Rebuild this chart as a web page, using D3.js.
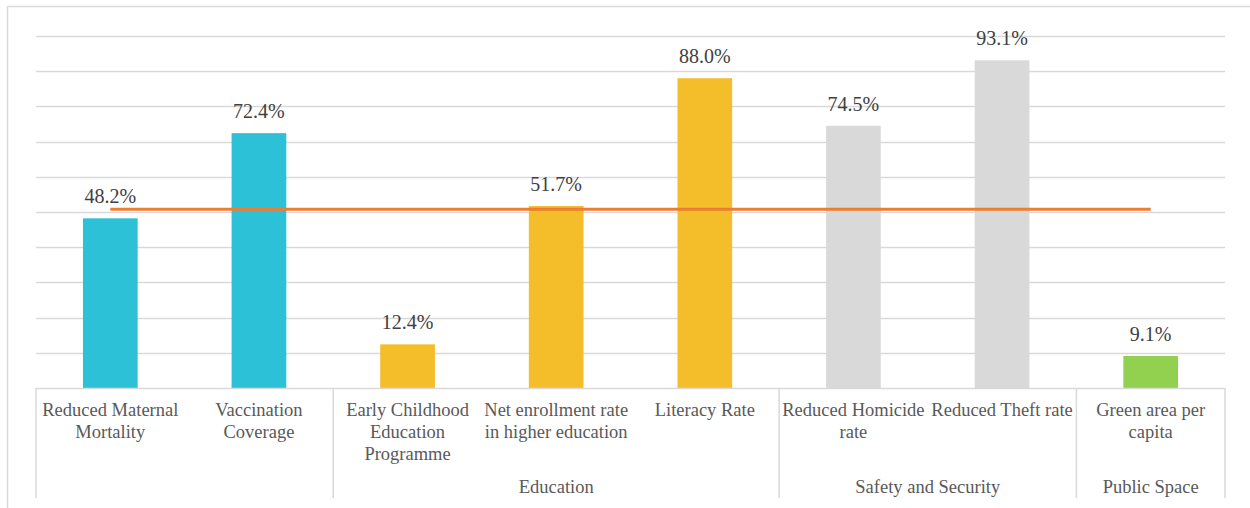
<!DOCTYPE html>
<html>
<head>
<meta charset="utf-8">
<script src="https://cdn.jsdelivr.net/npm/d3@7"></script>
<style>
  body { margin: 0; background: #fff; }
  svg { display: block; }
  svg text { font-family: "Liberation Serif", serif; }
</style>
</head>
<body>
<svg id="chart" width="1250" height="508"></svg>
<script>
// data
var categories = [
  "Reduced Maternal Mortality", "Vaccination Coverage",
  "Early Childhood Education Programme", "Net enrollment rate in higher education", "Literacy Rate",
  "Reduced Homicide rate", "Reduced Theft rate",
  "Green area per capita"
];
var values = [48.2, 72.4, 12.4, 51.7, 88.0, 74.5, 93.1, 9.1];
var groupOf = [0, 0, 1, 1, 1, 2, 2, 3];
var groups = ["", "Education", "Safety and Security", "Public Space"];
var groupColors = ["#2CC1D7", "#F4BE2A", "#D9D9D9", "#92D050"];
var targetLine = [50.8, 50.8, 50.8, 50.8, 50.8, 50.8, 50.8, 50.8];
var yTicks = [0, 10, 20, 30, 40, 50, 60, 70, 80, 90, 100];

var svg = d3.select("#chart");
var plotLeft = 36, plotRight = 1225, plotTop = 36, plotBottom = 388;
var serif = "'Liberation Serif', serif";

// outer frame
svg.append("rect")
  .attr("x", 7.5).attr("y", 6.5)
  .attr("width", 1260).attr("height", 520)
  .attr("fill", "none").attr("stroke", "#D9D9D9").attr("stroke-width", 1.5);

var x = d3.scaleBand().domain(d3.range(categories.length)).range([plotLeft, plotRight]).paddingInner(0.632).paddingOuter(0.316);
var y = d3.scaleLinear().domain([0, 100]).range([plotBottom, plotTop]);

// gridlines
svg.append("g").selectAll("line")
  .data(yTicks.slice(1))
  .enter().append("line")
  .attr("x1", plotLeft).attr("x2", plotRight)
  .attr("y1", function (d) { return Math.round(y(d)) + 0.5; })
  .attr("y2", function (d) { return Math.round(y(d)) + 0.5; })
  .attr("stroke", "#D9D9D9").attr("stroke-width", 1.5);

// bars
svg.append("g").selectAll("rect")
  .data(values)
  .enter().append("rect")
  .attr("x", function (d, i) { return x(i); })
  .attr("y", function (d) { return y(d); })
  .attr("width", x.bandwidth())
  .attr("height", function (d) { return y(0) - y(d); })
  .attr("fill", function (d, i) { return groupColors[groupOf[i]]; });

// value labels
svg.append("g").selectAll("text")
  .data(values)
  .enter().append("text")
  .attr("x", function (d, i) { return x(i) + x.bandwidth() / 2; })
  .attr("y", function (d) { return y(d) - 15; })
  .attr("text-anchor", "middle")
  .attr("font-family", serif)
  .attr("font-size", "20px")
  .attr("fill", "#404040")
  .text(function (d) { return d.toFixed(1) + "%"; });

// orange line
var line = d3.line()
  .x(function (d, i) { return x(i) + x.bandwidth() / 2; })
  .y(function (d) { return y(d); });
svg.append("path")
  .datum(targetLine)
  .attr("d", line)
  .attr("fill", "none")
  .attr("stroke", "#ED7D31")
  .attr("stroke-width", 3);

// category axis
var axisG = svg.append("g");
axisG.append("line")
  .attr("x1", plotLeft).attr("x2", plotRight)
  .attr("y1", plotBottom + 0.5).attr("y2", plotBottom + 0.5)
  .attr("stroke", "#D9D9D9").attr("stroke-width", 1.5);

// group separators
var step = x.step();
var seps = [0];
groupOf.forEach(function (g, i) {
  if (i > 0 && g !== groupOf[i - 1]) seps.push(i);
});
seps.push(categories.length);
var sepX = function (i) { return plotLeft + i * step; };
axisG.selectAll(".sep")
  .data(seps)
  .enter().append("line")
  .attr("class", "sep")
  .attr("x1", function (d) { return sepX(d); })
  .attr("x2", function (d) { return sepX(d); })
  .attr("y1", plotBottom).attr("y2", 498)
  .attr("stroke", "#D9D9D9").attr("stroke-width", 1.5);

// category labels with wrapping
var labels = axisG.selectAll(".cat")
  .data(categories)
  .enter().append("text")
  .attr("class", "cat")
  .attr("text-anchor", "middle")
  .attr("font-family", serif)
  .attr("font-size", "18.5px")
  .attr("fill", "#595959");

labels.each(function (d, i) {
  var t = d3.select(this);
  var cx = x(i) + x.bandwidth() / 2;
  var words = d.split(" ");
  var lines = [];
  var cur = [];
  var probe = t.append("tspan");
  words.forEach(function (w) {
    cur.push(w);
    probe.text(cur.join(" "));
    if (probe.node().getComputedTextLength() > step - 2 && cur.length > 1) {
      cur.pop();
      lines.push(cur.join(" "));
      cur = [w];
    }
  });
  lines.push(cur.join(" "));
  probe.remove();
  lines.forEach(function (l, k) {
    t.append("tspan").attr("x", cx).attr("y", 416 + k * 22).text(l);
  });
});

// group labels
axisG.selectAll(".grp")
  .data(groups)
  .enter().append("text")
  .attr("class", "grp")
  .attr("x", function (d, i) { return (sepX(seps[i]) + sepX(seps[i + 1])) / 2; })
  .attr("y", 493)
  .attr("text-anchor", "middle")
  .attr("font-family", serif)
  .attr("font-size", "18.5px")
  .attr("fill", "#595959")
  .text(function (d) { return d; });
</script>
</body>
</html>
